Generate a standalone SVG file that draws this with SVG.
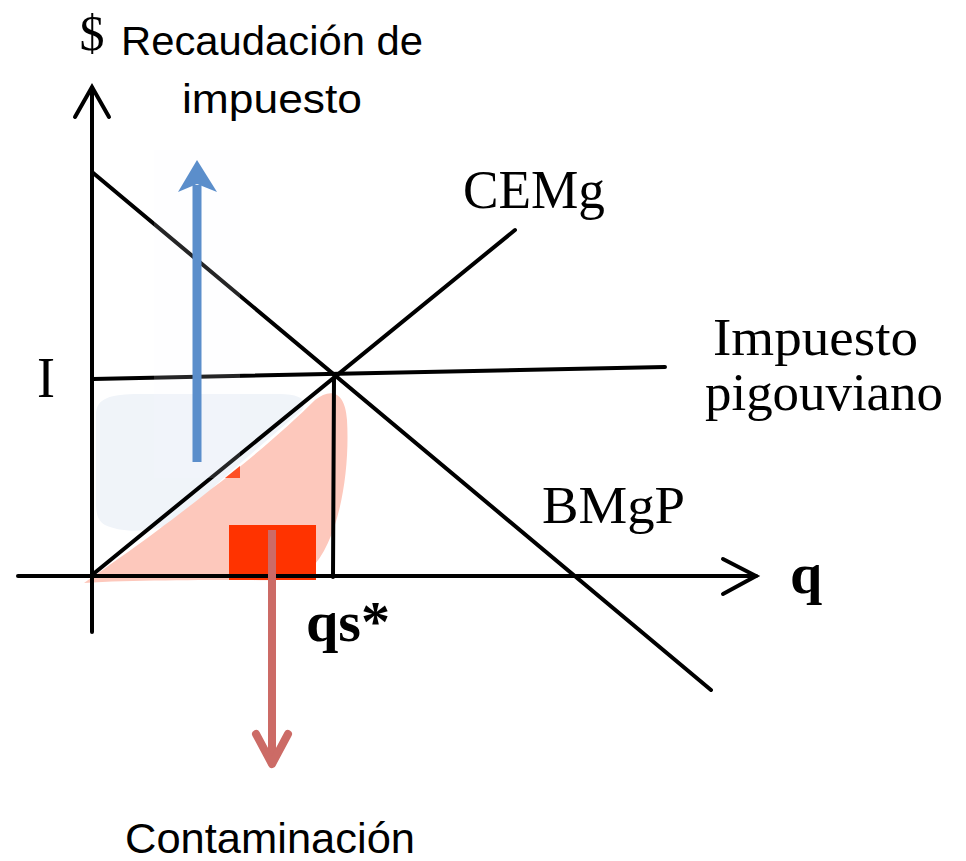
<svg xmlns="http://www.w3.org/2000/svg" width="966" height="861" viewBox="0 0 966 861">
<style>
.ln{stroke:#000;stroke-width:4;fill:none;stroke-linecap:round}
.serif{font-family:"Liberation Serif",serif;fill:#000}
.sans{font-family:"Liberation Sans",sans-serif;fill:#000}
</style>
<rect width="966" height="861" fill="#fff"/>
<g id="areas">
<path d="M96,415 C96,398 110,394 140,394 L280,394 C300,394 308,400 302,410 L250,455 C220,480 200,500 180,520 C150,535 120,532 105,525 C96,520 96,510 96,500 Z" fill="#f0f4f9"/>
<path d="M84,583 C110,565 160,530 210,490 C250,460 290,425 315,400 C330,388 345,390 347,420 C350,470 340,540 310,570 C300,580 280,581 250,580 C200,580 130,580 84,583 Z" fill="#fdc8bc"/>
<rect x="229" y="525" width="87" height="55" fill="#ff3300"/>
<polygon points="225,478 240,466 240,478" fill="#ff3300"/>
</g>
<g id="connectors">
<line class="ln" x1="92" y1="632" x2="92" y2="88"/>
<polyline class="ln" points="75,117 92,87 109,117"/>
<line class="ln" x1="18" y1="576" x2="756" y2="576"/>
<polyline class="ln" points="723,559 756,576 723,594"/>
<line class="ln" x1="92" y1="172" x2="711" y2="690"/>
<line class="ln" x1="92" y1="575" x2="515" y2="230"/>
<line class="ln" x1="93" y1="379" x2="665" y2="367"/>
<line class="ln" x1="334" y1="378" x2="333" y2="577"/>
</g>
<g id="arrow-recaudacion">
<rect x="154" y="150" width="86" height="328" fill="#f7f9fc" opacity="0.15"/>
<line x1="197" y1="462" x2="197" y2="185" stroke="#5b8ecb" stroke-width="9"/>
<polygon points="197,160 217,192 197,184 178,192" fill="#5b8ecb"/>
</g>
<g id="arrow-contaminacion">
<line x1="272" y1="530" x2="272" y2="762" stroke="#cc6b66" stroke-width="8"/>
<polyline points="256,734 272,764 288,734" fill="none" stroke="#cc6b66" stroke-width="8" stroke-linecap="round" stroke-linejoin="round"/>
</g>
<g id="labels">
<text class="serif" x="92" y="50" font-size="50" text-anchor="middle">$</text>
<text class="sans" x="121" y="55" font-size="41" textLength="302" lengthAdjust="spacingAndGlyphs">Recaudación de</text>
<text class="sans" x="182" y="113" font-size="41" textLength="180" lengthAdjust="spacingAndGlyphs">impuesto</text>
<text class="serif" x="463" y="208" font-size="54" textLength="142" lengthAdjust="spacingAndGlyphs">CEMg</text>
<text class="serif" x="713" y="355" font-size="52" textLength="205" lengthAdjust="spacingAndGlyphs">Impuesto</text>
<text class="serif" x="705" y="410" font-size="52" textLength="238" lengthAdjust="spacingAndGlyphs">pigouviano</text>
<text class="serif" x="37" y="397" font-size="56" textLength="18" lengthAdjust="spacingAndGlyphs">I</text>
<text class="serif" x="542" y="523" font-size="52" textLength="143" lengthAdjust="spacingAndGlyphs">BMgP</text>
<text class="serif" x="790" y="593" font-size="58" font-weight="bold">q</text>
<text class="serif" x="306" y="641" font-size="56" font-weight="bold" textLength="84" lengthAdjust="spacingAndGlyphs">qs*</text>
<text class="sans" x="125" y="853" font-size="42" textLength="290" lengthAdjust="spacingAndGlyphs">Contaminación</text>
</g>
</svg>
